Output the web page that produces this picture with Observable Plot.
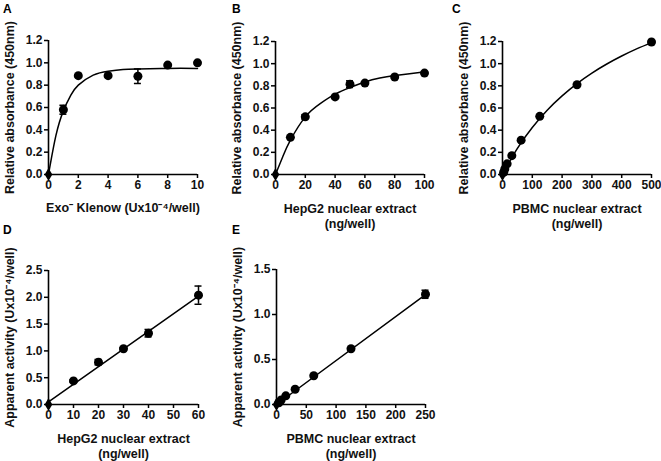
<!DOCTYPE html>
<html><head><meta charset="utf-8">
<script src="https://cdn.jsdelivr.net/npm/d3@7"></script>
<script src="https://cdn.jsdelivr.net/npm/@observablehq/plot@0.6"></script>
<style>
body{margin:0;background:#fff;}
#wrap{position:relative;width:661px;height:461px;font-family:"Liberation Sans",Arial,sans-serif;}
.panel{position:absolute;}
.letter{position:absolute;font-weight:bold;font-size:12px;line-height:12px;}
</style></head><body><div id="wrap"></div>
<script>
// Panel A
const aX = [0, 1, 2, 4, 6, 8, 10];
const aY = [0, 0.58, 0.885, 0.885, 0.88, 0.98, 1.0];
const aErr = [0, 0.04, 0, 0, 0.065, 0, 0];
const aFitX = [0, 0.5, 1, 1.5, 2, 3, 4, 5, 6, 8, 10];
const aFitY = [0, 0.35, 0.57, 0.71, 0.80, 0.89, 0.925, 0.94, 0.945, 0.95, 0.95];
// Panel B
const bX = [0, 10, 20, 40, 50, 60, 80, 100];
const bY = [0, 0.335, 0.52, 0.70, 0.815, 0.825, 0.88, 0.915];
const bErr = [0, 0, 0.02, 0, 0.03, 0, 0, 0];
const bFitX = [0, 5, 10, 20, 30, 40, 50, 60, 70, 80, 90, 100];
const bFitY = [0, 0.165, 0.31, 0.52, 0.64, 0.725, 0.785, 0.835, 0.87, 0.893, 0.91, 0.925];
// Panel C
const cX = [0, 3.9, 7.8, 15.6, 31.25, 62.5, 125, 250, 500];
const cY = [0, 0.02, 0.05, 0.096, 0.17, 0.31, 0.525, 0.81, 1.195];
const cErr = [0, 0, 0, 0, 0, 0, 0, 0, 0];
const cFitX = [0, 50, 100, 150, 200, 250, 300, 350, 400, 450, 500];
const cFitY = [0, 0.235, 0.424, 0.58, 0.709, 0.82, 0.915, 0.997, 1.069, 1.133, 1.19];
// Panel D
const dX = [0, 10, 20, 30, 40, 60];
const dY = [0, 0.44, 0.79, 1.04, 1.33, 2.04];
const dErr = [0, 0.02, 0.05, 0.02, 0.07, 0.17];
const dFitX = [0, 60];
const dFitY = [0.05, 2.02];
// Panel E
const eX = [0, 3.9, 7.8, 15.6, 31.25, 62.5, 125, 250];
const eY = [0, 0.02, 0.05, 0.096, 0.17, 0.32, 0.62, 1.225];
const eErr = [0, 0, 0, 0, 0, 0, 0, 0.045];
const eFitX = [0, 250];
const eFitY = [0, 1.22];

const absLabel = "Relative absorbance (450nm)";
const actLabel = "Apparent activity (Ux10\u207B\u2074/well)";

const panels = [
  {letter: "A", lx: 3, ly: 3, left: 0, top: 0, width: 220, height: 230, mt: 40, mr: 23, mb: 56, ml: 48,
   xDomain: [0, 10], yDomain: [0, 1.2], xTicks: [0, 2, 4, 6, 8, 10], yTicks: [0, 0.2, 0.4, 0.6, 0.8, 1.0, 1.2],
   xLabel: "Exo\u207B Klenow (Ux10\u207B\u2074/well)", yLabel: absLabel, xOff: 26,
   xs: aX, ys: aY, errs: aErr, fitX: aFitX, fitY: aFitY, curve: "natural"},
  {letter: "B", lx: 232, ly: 3, left: 215, top: 0, width: 230, height: 230, mt: 41, mr: 21, mb: 56, ml: 60,
   xDomain: [0, 100], yDomain: [0, 1.2], xTicks: [0, 20, 40, 60, 80, 100], yTicks: [0, 0.2, 0.4, 0.6, 0.8, 1.0, 1.2],
   xLabel: "HepG2 nuclear extract\n(ng/well)", yLabel: absLabel, xOff: 27,
   xs: bX, ys: bY, errs: bErr, fitX: bFitX, fitY: bFitY, curve: "natural"},
  {letter: "C", lx: 452, ly: 3, left: 435, top: 0, width: 226, height: 230, mt: 41, mr: 10, mb: 56, ml: 67,
   xDomain: [0, 500], yDomain: [0, 1.2], xTicks: [0, 100, 200, 300, 400, 500], yTicks: [0, 0.2, 0.4, 0.6, 0.8, 1.0, 1.2],
   xLabel: "PBMC nuclear extract\n(ng/well)", yLabel: absLabel, xOff: 27,
   xs: cX, ys: cY, errs: cErr, fitX: cFitX, fitY: cFitY, curve: "natural"},
  {letter: "D", lx: 3, ly: 224, left: 0, top: 225, width: 220, height: 236, mt: 45, mr: 22, mb: 57, ml: 48,
   xDomain: [0, 60], yDomain: [0, 2.5], xTicks: [0, 10, 20, 30, 40, 50, 60], yTicks: [0, 0.5, 1.0, 1.5, 2.0, 2.5],
   xLabel: "HepG2 nuclear extract\n(ng/well)", yLabel: actLabel, xOff: 27,
   xs: dX, ys: dY, errs: dErr, fitX: dFitX, fitY: dFitY, curve: "linear"},
  {letter: "E", lx: 232, ly: 224, left: 215, top: 225, width: 230, height: 236, mt: 44, mr: 20, mb: 57, ml: 61,
   xDomain: [0, 250], yDomain: [0, 1.5], xTicks: [0, 50, 100, 150, 200, 250], yTicks: [0, 0.5, 1.0, 1.5],
   xLabel: "PBMC nuclear extract\n(ng/well)", yLabel: actLabel, xOff: 27,
   xs: eX, ys: eY, errs: eErr, fitX: eFitX, fitY: eFitY, curve: "linear"}
];

const wrap = document.getElementById("wrap");
const font = "'Liberation Sans', Arial, sans-serif";

for (const c of panels) {
  const pts = c.xs.map((x, i) => ({x, y: c.ys[i], e: c.errs[i]}));
  const fit = c.fitX.map((x, i) => ({x, y: c.fitY[i]}));
  const bars = pts.filter(d => d.e > 0);
  const svg = Plot.plot({
    width: c.width, height: c.height,
    marginTop: c.mt, marginRight: c.mr, marginBottom: c.mb, marginLeft: c.ml,
    x: {domain: c.xDomain},
    y: {domain: c.yDomain},
    style: {fontFamily: font, fontSize: "12px", fontWeight: "bold", background: "transparent", overflow: "visible", color: "#000"},
    marks: [
      Plot.axisX({ticks: c.xTicks, tickSize: 4, tickPadding: 2, strokeWidth: 1.5, fill: "#111", label: null}),
      Plot.text([c.xLabel], {frameAnchor: "bottom", dy: c.xOff, lineAnchor: "top", lineHeight: 1.25,
        text: d => d, fill: "#111", fontSize: 12.5, fontWeight: "bold"}),
      Plot.axisY({ticks: c.yTicks, tickSize: 4, tickPadding: 2, strokeWidth: 1.5, fill: "#111", tickFormat: d3.format(".1f"), label: null}),
      Plot.axisY({ticks: [], fill: "#111", fontSize: 12.5,
        label: c.yLabel, labelAnchor: "center", labelOffset: 43, labelArrow: "none"}),
      Plot.ruleX([c.xDomain[0]], {stroke: "#000", strokeWidth: 1.6}),
      Plot.ruleY([c.yDomain[0]], {stroke: "#000", strokeWidth: 1.6}),
      Plot.line(fit, {x: "x", y: "y", curve: c.curve, stroke: "#000", strokeWidth: 1.5}),
      Plot.ruleX(bars, {x: "x", y1: d => d.y - d.e, y2: d => d.y + d.e, stroke: "#000", strokeWidth: 1.5}),
      Plot.ruleY(bars, {x1: "x", x2: "x", y: d => d.y + d.e, insetLeft: -3.5, insetRight: -3.5, stroke: "#000", strokeWidth: 1.5}),
      Plot.ruleY(bars, {x1: "x", x2: "x", y: d => d.y - d.e, insetLeft: -3.5, insetRight: -3.5, stroke: "#000", strokeWidth: 1.5}),
      Plot.dot(pts.slice(1), {x: "x", y: "y", r: 4.5, fill: "#000"}),
      Plot.dot(pts.slice(0, 1), {x: "x", y: "y", symbol: "diamond", r: 4, fill: "#000"})
    ]
  });
  const div = document.createElement("div");
  div.className = "panel";
  div.style.left = c.left + "px";
  div.style.top = c.top + "px";
  div.appendChild(svg);
  wrap.appendChild(div);
  const l = document.createElement("div");
  l.className = "letter";
  l.style.left = c.lx + "px";
  l.style.top = c.ly + "px";
  l.textContent = c.letter;
  wrap.appendChild(l);
}
</script></body></html>
